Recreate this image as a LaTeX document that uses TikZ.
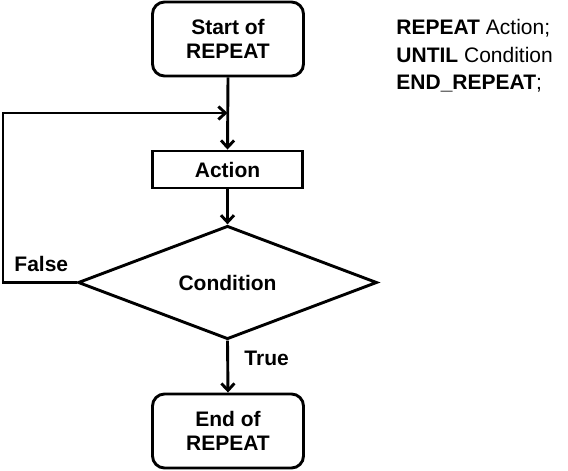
\documentclass[tikz,border=0pt]{standalone}
\usepackage{fontspec}
\setmainfont{Liberation Sans}
\usetikzlibrary{shapes.geometric,arrows.meta}
\begin{document}
\begin{tikzpicture}[x=1pt,y=-1pt,
  line width=2.9pt,
  every node/.style={font=\fontsize{21}{24.5}\selectfont\bfseries},
  term/.style={draw,rounded corners=12pt,minimum width=151pt,minimum height=74pt,align=center,inner sep=0pt},
  proc/.style={draw,minimum width=150pt,minimum height=37pt,inner sep=0pt},
  decis/.style={draw,diamond,minimum width=299pt,minimum height=111pt,inner sep=0pt},
  flow/.style={-{Straight Barb[length=7pt,width=13pt,line join=miter]}},
  lbl/.style={inner sep=0pt}
]
\useasboundingbox (0,0) rectangle (568,471);
\node[term] (start) at (228,39) {Start of\\REPEAT};
\node[proc] (action) at (227.5,169.5) {Action};
\node[decis] (cond) at (227.5,282.5) {Condition};
\node[term] (end) at (228,431) {End of\\REPEAT};
\coordinate (join) at (227.5,113);
\coordinate (lb) at (3,282.5);
\coordinate (lt) at (3,113);
\draw[flow] (start.south) -- (action.north);
\draw[flow] (action.south) -- (cond.north);
\draw[flow] (cond.south) -- (end.north);
\draw[flow,line join=miter] (cond.west) -- (lb) -- (lt) -- (join);
\node[lbl,anchor=west] (false) at (13,264) {False};
\node[lbl,anchor=west] (true) at (243,358) {True};
\node[lbl,anchor=north west,align=left,font=\fontsize{21}{27.5}\selectfont] (code) at (395,18)
  {\textbf{REPEAT} Action;\\\textbf{UNTIL} Condition\\\textbf{END\_REPEAT};};
\end{tikzpicture}
\end{document}
